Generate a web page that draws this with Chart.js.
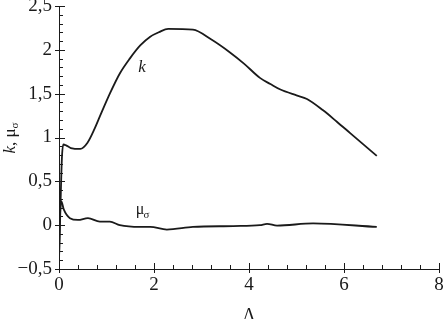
<!DOCTYPE html>
<html>
<head>
<meta charset="utf-8">
<script src="https://cdn.jsdelivr.net/npm/chart.js@4"></script>
<style>
  html, body { margin: 0; padding: 0; background: #fff; }
  #wrap { width: 443px; height: 319px; }
</style>
</head>
<body>
<div id="wrap"><canvas id="chart" width="443" height="319"></canvas></div>
<script>
'use strict';

// 곡선 k(Λ)
const lambdaK = [0, 0.03, 0.06, 0.09, 0.15, 0.25, 0.45, 0.6, 0.75, 0.86, 1.07, 1.28, 1.49, 1.71, 1.92, 2.1, 2.3, 2.82, 3.2, 3.6, 3.9, 4.23, 4.45, 4.65, 5.0, 5.22, 5.56, 5.85, 6.13, 6.69];
const kValues = [-0.4, 0.2, 0.75, 0.92, 0.91, 0.88, 0.87, 0.94, 1.1, 1.24, 1.5, 1.73, 1.9, 2.05, 2.15, 2.2, 2.24, 2.23, 2.12, 1.97, 1.84, 1.68, 1.61, 1.55, 1.48, 1.44, 1.31, 1.18, 1.05, 0.79];

// 곡선 μσ(Λ)
const lambdaMu = [0, 0.02, 0.05, 0.1, 0.23, 0.4, 0.61, 0.86, 1.07, 1.28, 1.7, 1.92, 2.27, 2.82, 3.67, 4.23, 4.38, 4.59, 5.35, 6.69];
const muValues = [-0.38, 0.1, 0.27, 0.18, 0.08, 0.06, 0.08, 0.04, 0.04, 0.0, -0.02, -0.02, -0.05, -0.02, -0.01, 0.0, 0.015, -0.005, 0.02, -0.02];

// 눈금 라벨
const xTickLabels = ['0', '2', '4', '6', '8'];
const yTickLabels = ['\u22120,5', '0', '0,5', '1', '1,5', '2', '2,5'];

const serif = '"Liberation Serif", "DejaVu Serif", serif';
const ink = '#1a1a1a';

const toPoints = (xs, ys) => xs.map((x, i) => ({ x: x, y: ys[i] }));

// 안쪽 방향 눈금 + 곡선 이름 + 세로축 제목
const decorPlugin = {
    id: 'decor',
    afterDraw(chart) {
        const ctx = chart.ctx;
        const xs = chart.scales.x;
        const ys = chart.scales.y;
        const area = chart.chartArea;
        ctx.save();
        ctx.strokeStyle = ink;
        ctx.lineWidth = 1;

        // x 축 눈금 (0.4 간격, 2마다 큰 눈금)
        for (let i = 0; i <= 20; i++) {
            const v = i * 0.4;
            const px = Math.round(xs.getPixelForValue(v)) + 0.5;
            const major = i % 5 === 0;
            ctx.beginPath();
            ctx.moveTo(px, area.bottom + (major ? 4 : 0));
            ctx.lineTo(px, area.bottom - (major ? 6 : 4));
            ctx.stroke();
        }
        // y 축 눈금 (0.1 간격, 0.5마다 큰 눈금)
        for (let i = 0; i <= 30; i++) {
            const v = -0.5 + i * 0.1;
            const py = Math.round(ys.getPixelForValue(v)) + 0.5;
            const major = i % 5 === 0;
            ctx.beginPath();
            ctx.moveTo(area.left - (major ? 4 : 0), py);
            ctx.lineTo(area.left + (major ? 6 : 4), py);
            ctx.stroke();
        }

        ctx.fillStyle = ink;
        ctx.textBaseline = 'middle';
        ctx.textAlign = 'center';

        // 곡선 이름
        ctx.font = 'italic 17px ' + serif;
        ctx.fillText('k', 142, 68);
        ctx.font = '16px ' + serif;
        ctx.fillText('\u03bc', 140, 210);
        ctx.font = '11px ' + serif;
        ctx.fillText('\u03c3', 146.5, 215);

        // 세로축 제목: k, μσ
        ctx.translate(11, 138);
        ctx.rotate(-Math.PI / 2);
        ctx.textAlign = 'left';
        const parts = [
            { t: 'k', f: 'italic 17px ' + serif, dy: 0 },
            { t: ', \u03bc', f: '17px ' + serif, dy: 0 },
            { t: '\u03c3', f: '11px ' + serif, dy: 4 }
        ];
        let total = 0;
        parts.forEach(p => { ctx.font = p.f; p.w = ctx.measureText(p.t).width; total += p.w; });
        let cx = -total / 2;
        parts.forEach(p => { ctx.font = p.f; ctx.fillText(p.t, cx, p.dy); cx += p.w; });
        ctx.restore();
    }
};

new Chart(document.getElementById('chart').getContext('2d'), {
    type: 'scatter',
    data: {
        datasets: [
            { label: 'k', data: toPoints(lambdaK, kValues), showLine: true, borderColor: ink, borderWidth: 1.8, pointRadius: 0, cubicInterpolationMode: 'monotone' },
            { label: 'μσ', data: toPoints(lambdaMu, muValues), showLine: true, borderColor: ink, borderWidth: 1.8, pointRadius: 0, cubicInterpolationMode: 'monotone' }
        ]
    },
    options: {
        responsive: false,
        animation: false,
        devicePixelRatio: 1,
        layout: { padding: { left: 0, right: 4, top: 6, bottom: 0 } },
        plugins: { legend: { display: false }, tooltip: { enabled: false } },
        scales: {
            x: {
                type: 'linear', min: 0, max: 8,
                grid: { display: false, drawTicks: false },
                border: { display: true, color: ink, width: 1 },
                ticks: {
                    stepSize: 2, padding: 5, color: ink,
                    font: { family: serif, size: 19 },
                    maxRotation: 0,
                    callback: (v) => xTickLabels[Math.round(v / 2)]
                },
                title: { display: true, text: 'Λ', color: ink, font: { family: serif, size: 18, lineHeight: 1 }, padding: { top: 0, bottom: -6 } },
                afterFit: (s) => { s.height = 50; s.paddingLeft = 0; s.paddingRight = 0; }
            },
            y: {
                type: 'linear', min: -0.5, max: 2.5,
                grid: { display: false, drawTicks: false },
                border: { display: true, color: ink, width: 1 },
                ticks: {
                    stepSize: 0.5, padding: 7, color: ink,
                    font: { family: serif, size: 19 },
                    callback: (v) => yTickLabels[Math.round((v + 0.5) / 0.5)]
                },
                afterFit: (s) => { s.width = 59; s.paddingTop = 0; s.paddingBottom = 0; }
            }
        }
    },
    plugins: [decorPlugin]
});
</script>
</body>
</html>
